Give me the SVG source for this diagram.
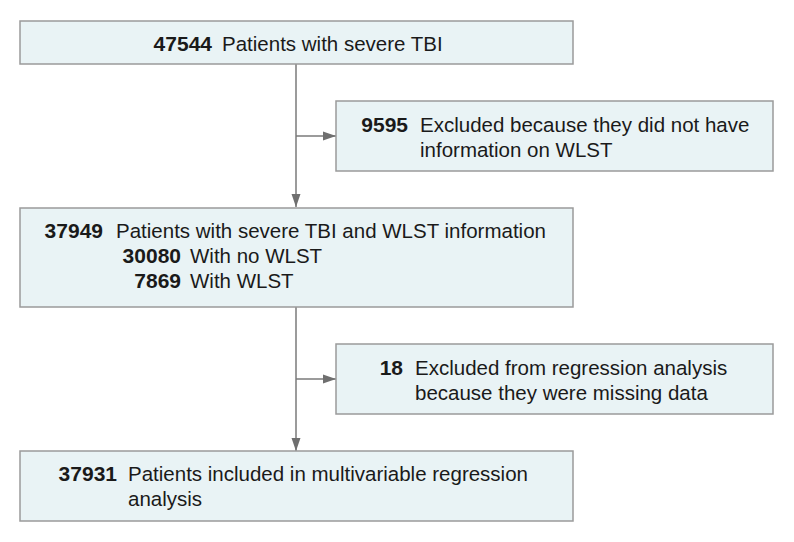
<svg xmlns="http://www.w3.org/2000/svg" width="794" height="542" viewBox="0 0 794 542">
  <defs>
    <marker id="arr" markerUnits="userSpaceOnUse" markerWidth="14" markerHeight="10" refX="13" refY="5" orient="auto">
      <path d="M0,0.5 L13,5 L0,9.5 Z" fill="#6f6f6f"/>
    </marker>
    <style>
      .box { fill: #e9f3f5; stroke: #9a9a9a; stroke-width: 1.5; }
      .conn { stroke: #7a7a7a; stroke-width: 1.5; fill: none; }
      text { font-family: "Liberation Sans", Arial, sans-serif; font-size: 20.5px; fill: #1a1a1a; }
      .num { font-weight: bold; text-anchor: end; font-size: 21px; }
    </style>
  </defs>
  <rect width="794" height="542" fill="#ffffff"/>

  <g id="connectors">
    <line class="conn" x1="296" y1="64" x2="296" y2="207" marker-end="url(#arr)"/>
    <line class="conn" x1="296" y1="136" x2="336" y2="136" marker-end="url(#arr)"/>
    <line class="conn" x1="296" y1="307" x2="296" y2="451" marker-end="url(#arr)"/>
    <line class="conn" x1="296" y1="379" x2="336" y2="379" marker-end="url(#arr)"/>
  </g>

  <g id="node-total">
    <rect class="box" x="20" y="21" width="553" height="43"/>
    <text class="num" x="212" y="51">47544</text>
    <text x="222" y="51">Patients with severe TBI</text>
  </g>

  <g id="node-excluded-wlst">
    <rect class="box" x="336" y="101" width="437" height="70"/>
    <text class="num" x="408" y="132">9595</text>
    <text x="420" y="132">Excluded because they did not have</text>
    <text x="420" y="157">information on WLST</text>
  </g>

  <g id="node-wlst-info">
    <rect class="box" x="20" y="208" width="553" height="99"/>
    <text class="num" x="103" y="238">37949</text>
    <text x="116" y="238">Patients with severe TBI and WLST information</text>
    <text class="num" x="181" y="263">30080</text>
    <text x="190" y="263">With no WLST</text>
    <text class="num" x="181" y="288">7869</text>
    <text x="190" y="288">With WLST</text>
  </g>

  <g id="node-excluded-missing">
    <rect class="box" x="336" y="344" width="437" height="70"/>
    <text class="num" x="403" y="375">18</text>
    <text x="415" y="375">Excluded from regression analysis</text>
    <text x="415" y="400">because they were missing data</text>
  </g>

  <g id="node-included">
    <rect class="box" x="20" y="451" width="553" height="70"/>
    <text class="num" x="117" y="481">37931</text>
    <text x="128" y="481">Patients included in multivariable regression</text>
    <text x="128" y="506">analysis</text>
  </g>
</svg>
